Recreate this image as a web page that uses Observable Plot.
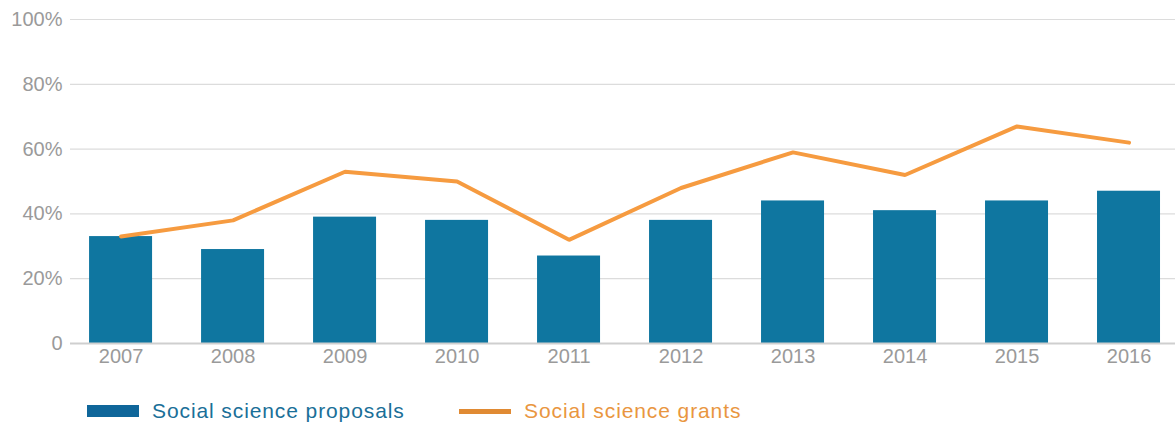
<!DOCTYPE html>
<html><head><meta charset="utf-8">
<script src="https://cdn.jsdelivr.net/npm/d3@7"></script>
<script src="https://cdn.jsdelivr.net/npm/@observablehq/plot@0.6"></script>
<style>
body{margin:0;background:#fff;font-family:"Liberation Sans",Arial,sans-serif;}
#wrap{position:relative;width:1175px;height:427px;}
.leg{position:absolute;top:399px;font-size:21px;letter-spacing:0.9px;display:flex;align-items:center;}
.sw{display:inline-block;margin-right:13px;}
</style></head>
<body><div id="wrap"></div>
<script>
const years = ["2007","2008","2009","2010","2011","2012","2013","2014","2015","2016"];
const proposals = [33,29,39,38,27,38,44,41,44,47];
const grants = [33,38,53,50,32,48,59,52,67,62];
const yTicks = [0,20,40,60,80,100];

const data = years.map((y,i)=>({year:y, p:proposals[i], g:grants[i]}));

const chart = Plot.plot({
  width:1175, height:380,
  marginLeft:70, marginRight:0, marginTop:19, marginBottom:37,
  style:{fontFamily:"Liberation Sans, Arial, sans-serif", fontSize:"20px", color:"#9a9a9a", background:"#fff"},
  x:{type:"band", domain:years, paddingInner:0.4375, paddingOuter:0.152, align:0.56, round:false, label:null},
  y:{domain:[0,100], label:null},
  marks:[
    Plot.ruleY(yTicks.filter(d=>d>0), {stroke:"#dcdcdc", strokeWidth:1.2}),
    Plot.barY(data, {x:"year", y:"p", fill:"#0f76a0"}),
    Plot.ruleY([0], {stroke:"#cfcfcf", strokeWidth:2}),
    Plot.lineY(data, {x:"year", y:"g", stroke:"#f69b40", strokeWidth:4, strokeLinejoin:"miter"}),
    Plot.axisY({ticks:yTicks, tickSize:0, tickPadding:8, fontSize:20, tickFormat:d=>d===0?"0":d+"%", fill:"#9a9a9a"}),
    Plot.axisX({tickSize:0, tickPadding:5, fontSize:20, fill:"#9a9a9a"})
  ]
});
const wrap = document.getElementById("wrap");
wrap.appendChild(chart);

const leg = [
  {label:"Social science proposals", color:"#1a6f98", left:87, sw:`<span class="sw" style="width:52px;height:12px;background:#0f669a"></span>`},
  {label:"Social science grants", color:"#e9963f", left:459, sw:`<span class="sw" style="width:52px;height:5px;background:#e08a33"></span>`}
];
for (const l of leg){
  const d = document.createElement("div");
  d.className="leg"; d.style.left=l.left+"px"; d.style.color=l.color;
  d.innerHTML = l.sw + `<span>${l.label}</span>`;
  wrap.appendChild(d);
}
</script></body></html>
